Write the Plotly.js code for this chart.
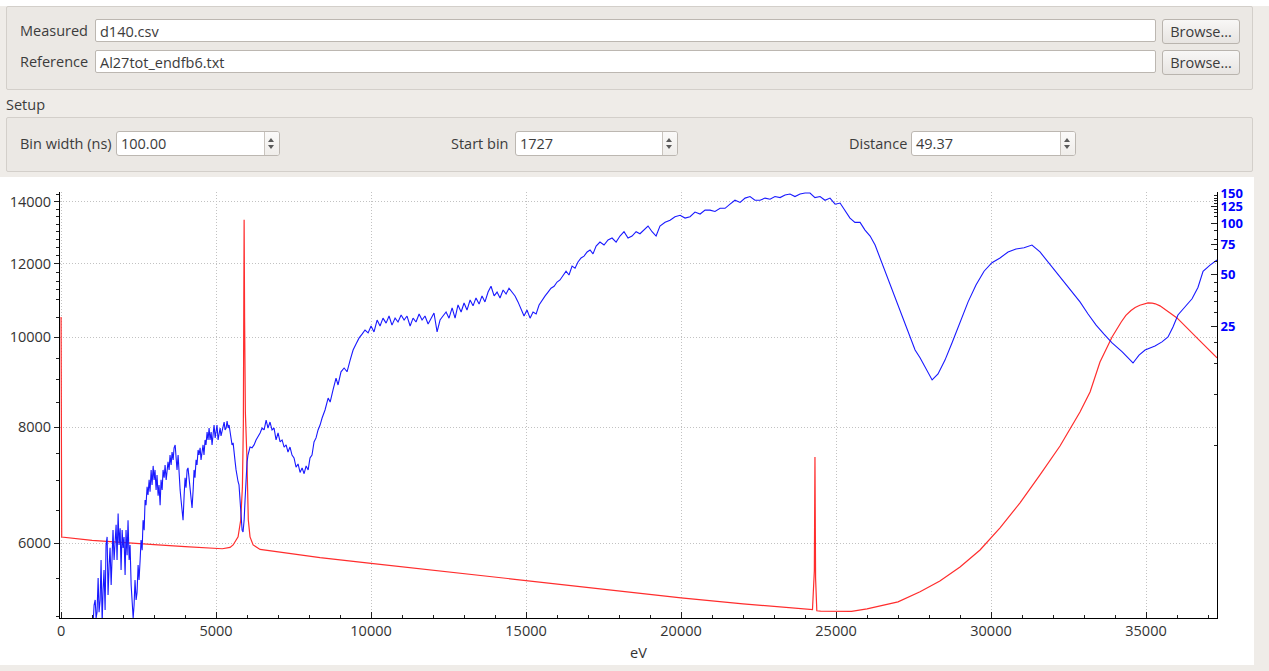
<!DOCTYPE html>
<html>
<head>
<meta charset="utf-8">
<script src="https://cdn.plot.ly/plotly-3.0.1.min.js"></script>
<style>
  html, body { margin: 0; padding: 0; }
  body { width: 1269px; height: 671px; background: #efece8; position: relative; overflow: hidden;
         font-family: "Open Sans", sans-serif; font-size: 14.5px; color: #3c3c3c; }
  .topstrip { position: absolute; left: 0; top: 0; width: 1269px; height: 6px; background: #ffffff; }
  .group { position: absolute; left: 6px; width: 1245px; background: #ebe8e4; border: 1px solid #d3cfca; border-radius: 2px; }
  .lbl { position: absolute; height: 24px; line-height: 24px; white-space: nowrap; }
  .field { position: absolute; height: 23px; line-height: 23px; background: #fff; border: 1px solid #bcb7b1;
           border-radius: 2px; padding-left: 4px; box-sizing: border-box; white-space: nowrap; }
  .btn { position: absolute; height: 25px; line-height: 23px; box-sizing: border-box; text-align: center;
         border: 1px solid #b9b4ae; border-radius: 3px; background: linear-gradient(#f8f7f6, #e7e4e1); }
  .spin { position: absolute; height: 25px; line-height: 23px; background: #fff; border: 1px solid #bcb7b1;
          border-radius: 3px; padding-left: 4px; box-sizing: border-box; }
  .spin .arr { position: absolute; right: 0; top: 0; width: 14px; height: 23px; border-left: 1px solid #c9c4be;
               background: linear-gradient(#fbfaf9, #efedea); border-radius: 0 2px 2px 0; }
  .spin .up, .spin .dn { position: absolute; left: 3px; width: 0; height: 0;
                         border-left: 3.5px solid transparent; border-right: 3.5px solid transparent; }
  .spin .up { top: 6px; border-bottom: 4px solid #5a5a5a; }
  .spin .dn { top: 13px; border-top: 4px solid #5a5a5a; }
  #plot { position: absolute; left: 0; top: 177px; width: 1254px; height: 488px; background: #fff; }
</style>
</head>
<body>
<div class="topstrip"></div>

<!-- file selection -->
<div class="group" style="top:6px; height:82px;"></div>
<div class="lbl" style="left:20px; top:19px;">Measured</div>
<div class="field" style="left:95px; top:19px; width:1061px;">d140.csv</div>
<div class="btn" style="left:1162px; top:19px; width:78px;">Browse...</div>
<div class="lbl" style="left:20px; top:50px;">Reference</div>
<div class="field" style="left:95px; top:50px; width:1061px;">Al27tot_endfb6.txt</div>
<div class="btn" style="left:1162px; top:50px; width:78px;">Browse...</div>

<!-- setup -->
<div class="lbl" style="left:6px; top:93px;">Setup</div>
<div class="group" style="top:117px; height:53px;"></div>
<div class="lbl" style="left:20px; top:132px;">Bin width (ns)</div>
<div class="spin" style="left:116px; top:131px; width:164px;">100.00<div class="arr"><div class="up"></div><div class="dn"></div></div></div>
<div class="lbl" style="left:451px; top:132px;">Start bin</div>
<div class="spin" style="left:515px; top:131px; width:163px;">1727<div class="arr"><div class="up"></div><div class="dn"></div></div></div>
<div class="lbl" style="left:849px; top:132px;">Distance</div>
<div class="spin" style="left:911px; top:131px; width:165px;">49.37<div class="arr"><div class="up"></div><div class="dn"></div></div></div>

<div id="plot"></div>

<script>
// Measured spectrum (counts, right axis) versus neutron energy in eV
const measuredEV = [
  1030,1065,1100,1130,1160,1195,1225,1260,1290,1325,
  1355,1385,1420,1450,1485,1515,1550,1580,1615,1645,
  1675,1710,1740,1775,1805,1840,1870,1905,1935,1970,
  2000,2030,2065,2095,2130,2160,2195,2225,2260,2290,
  2325,2355,2385,2420,2450,2485,2515,2550,2580,2615,
  2645,2680,2710,2740,2775,2805,2840,2870,2905,2935,
  2970,3000,3030,3065,3095,3130,3160,3195,3225,3260,
  3290,3325,3355,3390,3420,3450,3485,3515,3550,3580,
  3615,3645,3680,3710,3740,3775,3805,3840,3870,3905,
  3935,3970,4000,4030,4065,4095,4130,4160,4195,4225,
  4260,4290,4320,4355,4385,4420,4450,4485,4515,4550,
  4580,4610,4645,4675,4710,4740,4775,4805,4840,4870,
  4905,4935,4970,5000,5030,5065,5095,5130,5160,5195,
  5225,5260,5290,5325,5355,5390,5420,5450,5485,5515,
  5550,5580,5615,5645,5680,5710,5740,5775,5805,5840,
  5870,5905,5935,5970,6000,6030,6065,6095,
  6160,6225,6290,6355,6420,6485,6550,6615,6675,6740,
  6805,6870,6935,7000,7065,7130,7195,7260,7320,7385,
  7450,7515,7580,7645,7710,7775,7840,7905,7970,8030,
  8095,8160,8225,8290,8355,
  8420,8515,8615,8680,8775,8870,8935,9030,9130,9225,
  9325,9420,9515,9615,9710,9805,9905,10000,10095,10195,
  10290,10385,10485,10580,10675,10775,10870,10970,11065,11160,
  11260,11355,11450,11550,11645,11740,11840,11935,12030,12130,
  12225,12320,12420,12515,12615,12710,12805,12905,13000,13095,
  13195,13290,13385,13485,13580,13675,13775,13870,13970,14065,
  14160,14260,14355,14450,14550,14645,14740,14840,14935,15030,
  15130,15225,15325,15420,15515,15615,15710,15805,15905,16000,
  16095,16195,16290,16385,16485,16580,16675,16775,16870,16970,
  17065,17160,17260,
  17385,17515,17645,17775,17905,18030,18160,18290,18420,18550,
  18675,18805,18935,19065,19195,19320,
  19485,19645,19805,19970,20130,20290,20450,20615,20775,20935,
  21095,21260,21420,21580,21740,21905,22065,22225,22385,22550,
  22710,22870,23030,23195,23355,23515,23675,23840,24000,24160,
  24320,24485,24645,24805,24970,25130,25290,25450,25610,25775,
  25935,26100,26260,26420,26580,26740,26905,27065,27225,27390,
  27550,27710,27870,
  28100,28290,28515,28740,29000,29260,29515,29775,30030,30290,
  30550,30805,31065,31320,31580,31840,32100,32355,32615,32870,
  33130,33390,33645,33905,34225,34580,34775,34970,35290,35515,
  35710,35870,36030,36255,36485,36675,36840,37065,37290
];
const measuredCounts = [
  0.446,0.584,0.625,0.49,0.53,0.84,0.53,0.625,1.07,0.465,
  0.715,0.936,0.546,1.31,1.46,0.668,1.00,1.26,0.765,1.14,
  1.60,1.07,1.40,1.72,1.07,2.00,1.31,1.64,0.936,1.60,
  1.26,1.46,0.875,1.60,1.14,1.83,1.07,1.31,0.765,0.625,
  0.49,0.584,0.818,0.625,0.69,1.00,0.818,1.07,1.40,1.22,
  1.83,1.60,2.40,2.24,2.87,2.57,3.15,2.68,3.60,2.94,
  3.80,3.15,3.60,2.75,3.36,2.54,2.94,2.24,3.15,2.75,
  3.60,3.24,3.85,3.15,3.60,4.01,3.60,4.40,3.85,4.58,
  4.12,4.85,5.04,4.01,3.60,4.40,3.36,2.75,2.40,2.04,
  1.83,2.57,3.24,2.83,3.60,3.70,3.15,2.68,2.24,2.16,
  2.75,3.60,3.24,4.12,3.85,4.71,4.40,4.85,4.12,4.71,
  5.04,4.40,5.39,5.04,6.0,5.39,6.33,5.39,6.0,5.04,
  5.76,6.59,5.54,6.17,6.59,5.39,6.0,6.33,5.69,6.17,
  6.50,6.86,6.17,6.33,6.95,6.33,6.59,5.92,5.54,5.04,
  5.18,4.40,4.01,3.60,3.24,3.07,2.94,2.47,2.04,1.60,
  1.56,1.83,2.40,3.60,4.01,4.40,4.71,4.90,
  4.85,5.04,5.39,5.61,5.92,6.33,6.17,7.05,6.33,6.86,
  6.17,6.33,5.39,5.92,5.25,5.39,4.90,5.04,4.58,4.90,
  4.40,4.23,3.74,3.90,3.48,3.70,3.42,3.80,3.60,4.23,
  4.40,5.25,5.54,6.17,6.59,
  7.24,8.07,9.48,8.98,10.6,12.4,11.3,13.5,14.2,13.5,
  15.8,18.1,19.6,21.3,22.4,23.7,22.8,25.0,23.1,27.1,
  25.0,27.8,26.0,28.6,25.3,27.8,26.4,29.0,27.1,28.6,
  25.0,27.8,26.4,29.4,27.1,28.6,25.7,27.8,29.8,23.1,
  27.1,28.6,30.2,27.8,31.9,27.8,33.2,30.2,34.1,31.0,
  35.5,32.8,36.5,33.6,37.5,34.6,39.5,42.7,37.5,39.5,
  36.5,40.6,38.5,41.6,39.5,37.5,34.6,31.0,28.6,31.0,
  27.8,30.2,29.4,33.2,35.5,37.5,39.5,41.6,42.7,45.2,
  46.5,49.0,52.3,49.7,56.0,54.5,59.2,62.5,64.1,67.8,
  69.6,66.1,73.4,
  77.5,74.4,79.6,81.8,77.5,84.0,89.0,81.8,84.0,89.0,
  86.6,91.0,96.1,89.0,84.0,96.1,
  101,104,109,111,107,109,116,113,119,119,
  117,122,122,129,136,132,140,143,136,136,
  140,138,143,141,146,148,143,148,150,150,
  141,143,136,140,129,131,119,107,101,101,
  91.0,84.0,74.4,62.5,53.1,44.6,37.5,31.0,26.4,22.1,
  18.1,16.3,14.4,
  12.1,13.1,15.8,19.9,26.4,34.6,43.4,52.3,58.7,62.5,
  67.8,70.5,71.7,74.4,67.8,59.2,52.3,45.2,39.5,34.6,
  29.4,25.3,22.4,19.9,17.7,15.2,16.9,18.1,19.1,20.2,
  21.6,24.7,29.0,32.4,36.1,42.0,52.3,56.8,60.8
];

// Reference cross section (left axis)
const referenceEV = [
  0, 20, 1000, 2000, 3000, 4000, 5000,
  5200, 5450, 5550, 5710, 5795, 5850, 5880, 5895, 5905, 5920,
  5945, 5990, 6040, 6095, 6195, 6420,
  8355, 10000, 12000, 14000, 16000, 18000, 20000, 22000, 23840,
  24240, 24300, 24320, 24340, 24380, 24500,
  25000, 25500, 26000, 26500, 27000,
  27710, 28350, 29000, 29645, 30290, 30935, 31580, 32225, 32870,
  33195, 33515, 33905, 34200, 34350, 34515, 34650, 34800, 34930, 35065, 35200,
  35300, 35450, 35600, 35750, 36000, 36740, 37290
];
const referenceXS = [
  10520, 6090, 6040, 6003, 5975, 5945, 5911,
  5915, 5934, 5971, 6092, 6353, 6900, 8070, 11000, 13390, 10500,
  8300, 7500, 6353, 6092, 5971, 5905,
  5785, 5705, 5608, 5513, 5419, 5327, 5236, 5159, 5095,
  5085, 5600, 7430, 5500, 5070, 5065,
  5062, 5062, 5095, 5140, 5184,
  5315, 5460, 5654, 5897, 6230, 6629, 7106, 7634, 8308,
  8732, 9408, 10011, 10390, 10560, 10690, 10770, 10830, 10870, 10893, 10890,
  10870, 10814, 10720, 10640, 10496, 9912, 9502
];

// Axis ticks
const energyTicks = [0, 5000, 10000, 15000, 20000, 25000, 30000, 35000];
const leftTicks = [6000, 8000, 10000, 12000, 14000];
const leftMinor = [5000, 5500, 6500, 7000, 7500, 8500, 9000, 9500, 10500, 11000, 11250, 11500, 11750,
                   12250, 12500, 12750, 13000, 13250, 13500, 13750, 14250];
const rightTicks = [25, 50, 75, 100, 125, 150];
const rightMinor = [5, 10, 15, 20, 30, 35, 40, 45, 60, 70, 80, 90, 110, 115, 120, 130, 135, 140, 145];

const tickFont = { family: "Open Sans, sans-serif", size: 14.5, color: "#333333" };
const gridDots = "1px,2px";

const traces = [
  {
    x: measuredEV, y: measuredCounts, yaxis: "y2", type: "scatter", mode: "lines",
    line: { color: "rgb(25,25,255)", width: 1.1 }, hoverinfo: "skip"
  },
  {
    x: referenceEV, y: referenceXS, yaxis: "y", type: "scatter", mode: "lines",
    line: { color: "rgb(255,45,45)", width: 1.2 }, hoverinfo: "skip"
  }
];

const layout = {
  width: 1254, height: 488,
  margin: { l: 60, r: 37, t: 15, b: 47 },
  paper_bgcolor: "#ffffff", plot_bgcolor: "#ffffff",
  showlegend: false,
  xaxis: {
    range: [-35, 37290], tickmode: "array", tickvals: energyTicks, ticktext: energyTicks.map(String),
    ticks: "inside", ticklen: 6, tickcolor: "#222", tickwidth: 1,
    minor: { dtick: 1000, tick0: 0, ticks: "inside", ticklen: 3, tickcolor: "#222", showgrid: false },
    showline: true, linecolor: "#000", linewidth: 1,
    showgrid: true, gridcolor: "#c2c2c2", griddash: gridDots, gridwidth: 1,
    zeroline: false, tickfont: tickFont,
    title: { text: "eV", font: tickFont, standoff: 8 }
  },
  yaxis: {
    type: "log", range: [Math.log10(4980), Math.log10(14350)],
    tickmode: "array", tickvals: leftTicks, ticktext: leftTicks.map(String),
    ticks: "outside", ticklen: 5, tickcolor: "#222",
    minor: { tickmode: "array", tickvals: leftMinor, ticks: "outside", ticklen: 3, tickcolor: "#222", showgrid: false },
    showline: true, linecolor: "#000", linewidth: 1,
    showgrid: true, gridcolor: "#c2c2c2", griddash: gridDots, gridwidth: 1,
    zeroline: false, tickfont: tickFont
  },
  yaxis2: {
    type: "log", overlaying: "y", side: "right", range: [Math.log10(0.49), Math.log10(152)],
    tickmode: "array", tickvals: rightTicks, ticktext: rightTicks.map(String),
    ticks: "inside", ticklen: 6, tickcolor: "#222",
    minor: { tickmode: "array", tickvals: rightMinor, ticks: "inside", ticklen: 3, tickcolor: "#222", showgrid: false },
    showline: true, linecolor: "#000", linewidth: 1,
    showgrid: false, zeroline: false,
    tickfont: { family: "Open Sans, sans-serif", size: 13, color: "#0000ff", weight: "bold" }
  }
};

Plotly.newPlot("plot", traces, layout, { displayModeBar: false, staticPlot: true });
</script>
</body>
</html>
